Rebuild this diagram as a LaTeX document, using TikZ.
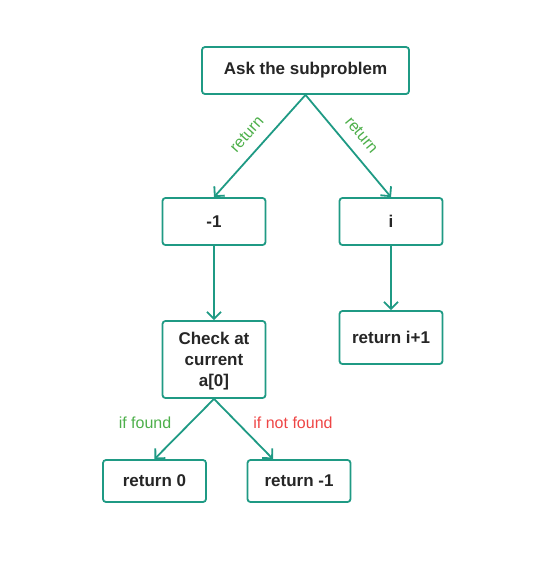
\documentclass[tikz,border=0pt]{standalone}
\usepackage{fontspec}
\setmainfont{Liberation Sans}
\usetikzlibrary{positioning, arrows.meta}
\definecolor{boxline}{HTML}{1F9A84}
\definecolor{okgreen}{HTML}{4DAF4A}
\definecolor{badred}{HTML}{EE4545}

\begin{document}
\begin{tikzpicture}[x=1pt,y=-1pt]\tikzset{->,>={Straight Barb[length=7pt,width=14pt]},every edge/.style={draw=boxline,line width=1.8pt}, box/.style={draw=boxline,line width=1.8pt,rounded corners=3pt,fill=white,minimum width=103pt,minimum height=47pt,align=center,font=\fontsize{17}{21}\selectfont\bfseries,text=black!85}, lbl/.style={font=\fontsize{16}{18}\selectfont}}
	\useasboundingbox (0,0) rectangle (541,563);
	\node[box, minimum width=207pt] (0) at (305.5,70.5) {Ask the subproblem};
	\node[box] (1) at (214,221.5) {-1};
	\node[box] (2) at (391,221.5) {i};
	\node[box, minimum height=77pt, text depth=-2pt] (3) at (214,359.5) {Check at\\current\\a[0]};
	\node[box, minimum height=53pt] (4) at (391,337.5) {return i+1};
	\node[box, minimum height=42pt] (5) at (154.5,481) {return 0};
	\node[box, minimum height=42pt] (6) at (299,481) {return -1};
	\path (0.south) edge node[lbl, text=okgreen, sloped, above=8pt] {return} (1.north);
	\path (0.south) edge node[lbl, text=okgreen, sloped, above=8pt] {return} (2.north);
	\path (1.south) edge (3.north);
	\path (2.south) edge (4.north);
	\path (3.south) edge (5.north);
	\path (3.south) edge ([xshift=-26pt]6.north);
	\node[lbl, text=okgreen] (7) at (145,423) {if found};
	\node[lbl, text=badred] (8) at (293,423) {if not found};\end{tikzpicture}
\end{document}
